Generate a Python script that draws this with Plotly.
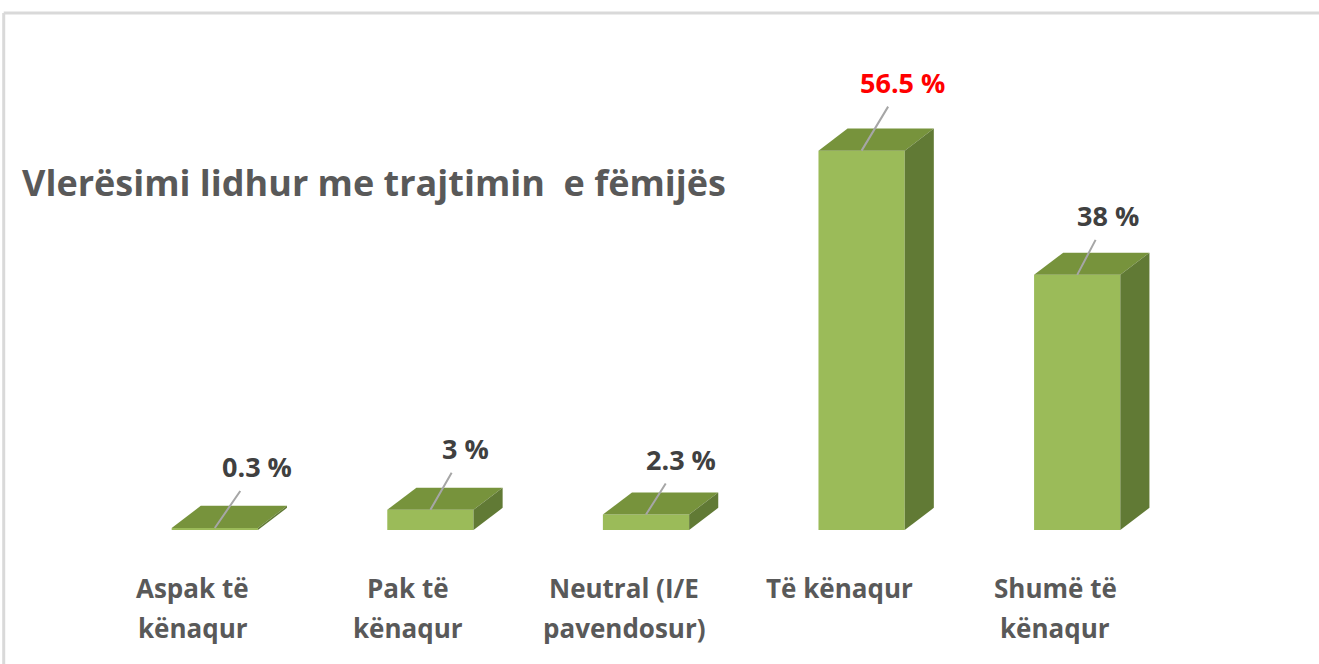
import plotly.graph_objects as go

categories = ['Aspak të<br>kënaqur', 'Pak të<br>kënaqur', 'Neutral (I/E<br>pavendosur)',
              'Të kënaqur', 'Shumë të<br>kënaqur']
values = [0.3, 3, 2.3, 56.5, 38]
title_text = 'Vlerësimi lidhur me trajtimin\u00a0 e fëmijës'

FRONT = '#9bbb59'
TOP = '#77933c'
SIDE = '#617a35'
FONT = 'Open Sans, Lato, sans-serif'

# fake 3d: depth offset in axis units
bw = 0.4
dx = 0.135
dy = 3.3
# pixel offsets of the value labels from the bar top
label_off = [(42, -61), (35, -61), (35, -55), (41, -68), (31, -59)]

fig = go.Figure()
fig.add_trace(go.Bar(x=list(range(len(values))), y=values, width=bw,
                     marker=dict(color=FRONT, line=dict(width=0)),
                     hoverinfo='skip', showlegend=False))

for i, v in enumerate(values):
    x0, x1 = i - bw / 2, i + bw / 2
    # top face
    fig.add_trace(go.Scatter(x=[x0, x1, x1 + dx, x0 + dx, x0], y=[v, v, v + dy, v + dy, v],
                             mode='lines', fill='toself', fillcolor=TOP,
                             line=dict(width=0, color=TOP), hoverinfo='skip', showlegend=False))
    # side face
    fig.add_trace(go.Scatter(x=[x1, x1 + dx, x1 + dx, x1, x1], y=[0, dy, v + dy, v, 0],
                             mode='lines', fill='toself', fillcolor=SIDE,
                             line=dict(width=0, color=SIDE), hoverinfo='skip', showlegend=False))

    # value label with leader line
    fig.add_annotation(x=i, y=v, text='<b>%g %%</b>' % v, showarrow=True, arrowhead=0,
                       arrowcolor='#a6a6a6', arrowwidth=2,
                       ax=label_off[i][0], ay=label_off[i][1], borderpad=5,
                       font=dict(family=FONT, size=27,
                                 color='#ff0000' if v == max(values) else '#404040'))

    # category label, one annotation per line
    for j, line in enumerate(categories[i].split('<br>')):
        fig.add_annotation(x=i, y=0, yref='paper', text='<b>%s</b>' % line, showarrow=False,
                           xshift=-22, yshift=-58 - 40 * j, yanchor='middle',
                           font=dict(family=FONT, size=26, color='#595959'))

# outer frame
fig.add_shape(type='line', xref='paper', yref='paper', x0=-0.0958, x1=1.13, y0=1.1, y1=1.1,
              line=dict(color='#d9d9d9', width=3))
fig.add_shape(type='line', xref='paper', yref='paper', x0=-0.0958, x1=-0.0958, y0=1.1, y1=-0.3,
              line=dict(color='#d9d9d9', width=3))

fig.update_layout(
    width=1319, height=664,
    margin=dict(l=107, r=134, t=60, b=134),
    paper_bgcolor='white', plot_bgcolor='white',
    title=dict(text='<b>%s</b>' % title_text, x=22 / 1319, xanchor='left',
               y=1 - 183 / 664, yanchor='middle',
               font=dict(family=FONT, size=36, color='#595959')),
    xaxis=dict(range=[-0.5, 4.5], visible=False),
    yaxis=dict(range=[0, 70], visible=False),
)

fig.write_html('out.html', config={'displayModeBar': False},
               post_script="document.body.style.margin='0px';")
